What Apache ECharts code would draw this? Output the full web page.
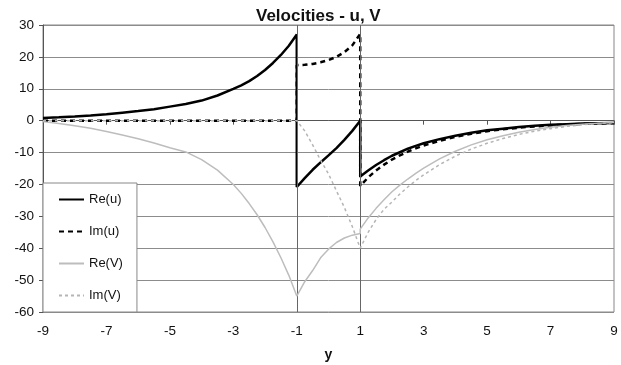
<!DOCTYPE html>
<html>
<head>
<meta charset="utf-8">
<script src="https://cdn.jsdelivr.net/npm/echarts@6/dist/echarts.min.js"></script>
<style>
  html, body { margin: 0; padding: 0; background: #fff; }
  #chart { width: 621px; height: 365px; }
</style>
</head>
<body>
<div id="chart"></div>
<script>
// Sample positions across the layer; -1 and 1 appear twice (left and right limits at the interfaces)
const positions = [
  -9, -8.5, -8, -7.5, -7, -6.5, -6, -5.5, -5, -4.5, -4, -3.5, -3,
  -2.75, -2.5, -2.25, -2, -1.75, -1.5, -1.25, -1,
  -1, -0.75, -0.5, -0.25, 0, 0.25, 0.5, 0.75, 1,
  1, 1.25, 1.5, 1.75, 2, 2.25, 2.5, 2.75, 3,
  3.5, 4, 4.5, 5, 5.5, 6, 6.5, 7, 7.5, 8, 8.5, 9
];

const reU = [
  0.85, 1.05, 1.3, 1.6, 2.0, 2.5, 3.0, 3.6, 4.4, 5.2, 6.3, 7.9, 10.0,
  11.1, 12.4, 14.0, 15.9, 18.1, 20.6, 23.5, 27.0,
  -20.8, -18.0, -15.4, -13.1, -10.9, -8.6, -6.0, -3.2, 0,
  -17.5, -15.6, -13.9, -12.4, -11.0, -9.9, -8.8, -7.9, -7.1,
  -5.8, -4.7, -3.8, -3.0, -2.5, -2.0, -1.6, -1.3, -1.1, -0.9, -0.8, -0.7
];

const imU = [
  0, 0, 0, 0, 0, 0, 0, 0, 0, 0, 0, 0, 0,
  0, 0, 0, 0, 0, 0, 0, 0,
  17.4, 17.5, 17.8, 18.3, 19.0, 20.0, 21.5, 23.6, 27.2,
  -20.5, -17.8, -15.6, -13.8, -12.2, -10.9, -9.7, -8.7, -7.8,
  -6.3, -5.1, -4.1, -3.3, -2.7, -2.2, -1.8, -1.5, -1.2, -1.0, -0.9, -0.8
];

const reV = [
  -0.3, -0.9, -1.6, -2.4, -3.4, -4.5, -5.7, -7.0, -8.5, -9.8, -12.2, -15.5, -20.0,
  -22.8, -26.0, -29.5, -33.5, -38.0, -43.0, -48.5, -55.0,
  -55.0, -50.5, -47.0, -43.0, -40.3, -38.2, -36.8, -35.9, -35.4,
  -34.0, -30.5, -27.5, -24.8, -22.3, -20.2, -18.3, -16.5, -14.9,
  -12.0, -9.6, -7.6, -6.0, -4.7, -3.6, -2.8, -2.1, -1.5, -1.1, -0.8, -0.6
];

const imV = [
  0, 0, 0, 0, 0, 0, 0, 0, 0, 0, 0, 0, 0,
  0, 0, 0, 0, 0, 0, 0, 0,
  0, -3.2, -7.6, -12.4, -16.7, -22.0, -27.2, -33.2, -40.0,
  -40.0, -35.0, -31.0, -27.8, -25.5, -23.0, -20.8, -18.8, -17.0,
  -13.8, -11.1, -8.9, -7.1, -5.6, -4.3, -3.3, -2.5, -1.8, -1.3, -0.9, -0.6
];

// Interface positions marked with thin vertical lines
const interfaces = [-1, 1];

const pairs = vals => positions.map((p, i) => [p, vals[i]]);

const font = 'Liberation Sans, Arial, sans-serif';
const chart = echarts.init(document.getElementById('chart'), null, { renderer: 'canvas' });

// legend shows plain line samples: the marker part of the icon is made invisible
const hiddenMarker = { opacity: 0 };

chart.setOption({
  animation: false,
  backgroundColor: '#fff',
  textStyle: { fontFamily: font },
  title: {
    text: 'Velocities - u, V',
    left: 251,
    top: 3,
    textStyle: { fontFamily: font, fontSize: 17, fontWeight: 'bold', color: '#111' }
  },
  grid: {
    left: 43, right: 7, top: 25, bottom: 53,
    outerBoundsMode: 'none',
    show: true, borderColor: '#888', borderWidth: 1
  },
  legend: {
    orient: 'vertical',
    left: 43, top: 183,
    padding: [10, 14, 10, 15],
    itemWidth: 25, itemHeight: 14, itemGap: 19,
    backgroundColor: '#fff',
    borderColor: '#888', borderWidth: 1,
    itemStyle: hiddenMarker,
    textStyle: { fontFamily: font, fontSize: 13, color: '#111' },
    data: ['Re(u)', 'Im(u)', 'Re(V)', 'Im(V)']
  },
  xAxis: {
    type: 'value',
    min: -9, max: 9, interval: 2,
    name: 'y',
    nameLocation: 'middle',
    nameGap: 36,
    nameTextStyle: { fontFamily: font, fontSize: 14, fontWeight: 'bold', color: '#111' },
    axisLine: { show: true, lineStyle: { color: '#555', width: 1 } },
    axisTick: { show: true, length: 4, lineStyle: { color: '#555' } },
    axisLabel: { fontFamily: font, fontSize: 13.5, color: '#111', margin: 12 },
    splitLine: { show: false }
  },
  yAxis: {
    type: 'value',
    min: -60, max: 30, interval: 10,
    axisLine: { show: true, onZero: false, lineStyle: { color: '#555', width: 1 } },
    axisTick: { show: true, length: 4, lineStyle: { color: '#555' } },
    axisLabel: { fontFamily: font, fontSize: 13.5, color: '#111', margin: 9 },
    splitLine: { show: true, lineStyle: { color: '#8c8c8c', width: 1 } }
  },
  series: [
    {
      name: 'Re(u)', type: 'line', data: pairs(reU),
      showSymbol: false, symbol: 'none',
      lineStyle: { color: '#000', width: 2.5 },
      itemStyle: { color: '#000', opacity: 0 },
      markLine: {
        silent: true, symbol: 'none', label: { show: false },
        lineStyle: { color: '#666', width: 1, type: 'solid', opacity: 1 },
        data: interfaces.map(v => ({ xAxis: v }))
      },
      z: 3
    },
    {
      name: 'Im(u)', type: 'line', data: pairs(imU),
      showSymbol: false, symbol: 'none',
      lineStyle: { color: '#000', width: 2.5, type: [5, 4] },
      itemStyle: { color: '#000', opacity: 0 },
      z: 4
    },
    {
      name: 'Re(V)', type: 'line', data: pairs(reV),
      showSymbol: false, symbol: 'none',
      lineStyle: { color: '#bdbdbd', width: 1.5 },
      itemStyle: { color: '#bdbdbd', opacity: 0 },
      z: 5
    },
    {
      name: 'Im(V)', type: 'line', data: pairs(imV),
      showSymbol: false, symbol: 'none',
      lineStyle: { color: '#b5b5b5', width: 1.5, type: [3, 3] },
      itemStyle: { color: '#b5b5b5', opacity: 0 },
      z: 6
    }
  ]
});
</script>
</body>
</html>
